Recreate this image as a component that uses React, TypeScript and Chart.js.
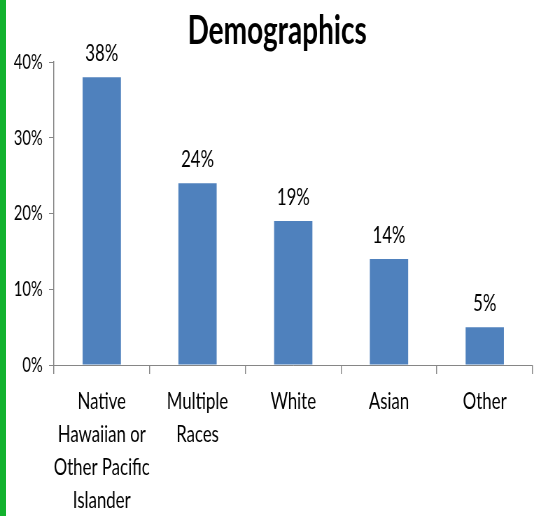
import React, { useEffect, useRef } from "react";
import { Chart, registerables } from "chart.js";

Chart.register(...registerables);

const titleText = "Demographics";
const categories: string[][] = [
  ["Native", "Hawaiian or", "Other Pacific", "Islander"],
  ["Multiple", "Races"],
  ["White"],
  ["Asian"],
  ["Other"],
];
const values: number[] = [38, 24, 19, 14, 5];
const yMin = 0;
const yMax = 40;
const yStep = 10;

const VW = 763; // virtual width
const VH = 516;
const SX = 534 / VW;
const FONT = "Lato, 'Open Sans', sans-serif";

export default function App() {
  const ref = useRef<HTMLCanvasElement | null>(null);

  useEffect(() => {
    document.body.style.margin = "0";
    const canvas = ref.current!;
    const labelsPlugin = {
      id: "barLabels",
      afterDatasetsDraw(chart: any) {
        const ctx = chart.ctx as CanvasRenderingContext2D;
        const meta = chart.getDatasetMeta(0);
        ctx.save();
        ctx.fillStyle = "#000";
        ctx.textAlign = "center";
        ctx.textBaseline = "alphabetic";
        ctx.font = `24px ${FONT}`;
        meta.data.forEach((bar: any, i: number) => {
          ctx.fillText(values[i] + "%", bar.x, bar.y - 16);
        });
        ctx.font = `bold 40px ${FONT}`;
        ctx.fillText(titleText, 396, 44);
        ctx.restore();
      },
    };
    const chart = new Chart(canvas, {
      type: "bar",
      data: {
        labels: categories,
        datasets: [
          {
            data: values,
            backgroundColor: "#4F81BD",
            borderWidth: 0,
            categoryPercentage: 0.8,
            barPercentage: 0.5,
          },
        ],
      },
      options: {
        animation: false,
        responsive: false,
        devicePixelRatio: 1,
        layout: { padding: { top: 62, right: 2, left: 0, bottom: 0 } },
        plugins: {
          legend: { display: false },
          title: { display: false },
          tooltip: { enabled: false },
        },
        scales: {
          x: {
            afterFit: (s: any) => {
              s.height = 151;
            },
            border: { display: true, color: "#868686", width: 1 },
            grid: {
              display: true,
              drawOnChartArea: false,
              drawTicks: true,
              tickLength: 9,
              color: "#868686",
              lineWidth: 1.43,
              offset: true,
            },
            ticks: {
              color: "#000",
              font: { family: FONT, size: 24, lineHeight: 1.375 },
              padding: 11,
              maxRotation: 0,
              autoSkip: false,
            },
          },
          y: {
            min: yMin,
            max: yMax,
            afterFit: (s: any) => {
              s.width = 77;
            },
            border: { display: true, color: "#868686", width: 1.43 },
            grid: {
              display: true,
              drawOnChartArea: false,
              drawTicks: true,
              tickLength: 7,
              color: "#868686",
              lineWidth: 1,
            },
            ticks: {
              stepSize: yStep,
              color: "#000",
              font: { family: FONT, size: 21 },
              padding: 9,
              callback: (v: any) => v + "%",
            },
          },
        },
      },
      plugins: [labelsPlugin],
    });
    return () => chart.destroy();
  }, []);

  return (
    <div
      style={{
        position: "absolute",
        left: 0,
        top: 0,
        width: 534,
        height: 516,
        overflow: "hidden",
        background: "#fff",
      }}
    >
      <div
        style={{
          position: "absolute",
          left: 0,
          top: 0,
          width: VW,
          height: VH,
          transform: `scaleX(${SX})`,
          transformOrigin: "0 0",
        }}
      >
        <canvas ref={ref} width={VW} height={VH} />
      </div>
      <div
        style={{
          position: "absolute",
          left: 0,
          top: 0,
          width: 6,
          height: 516,
          background: "#12B22E",
        }}
      />
    </div>
  );
}
